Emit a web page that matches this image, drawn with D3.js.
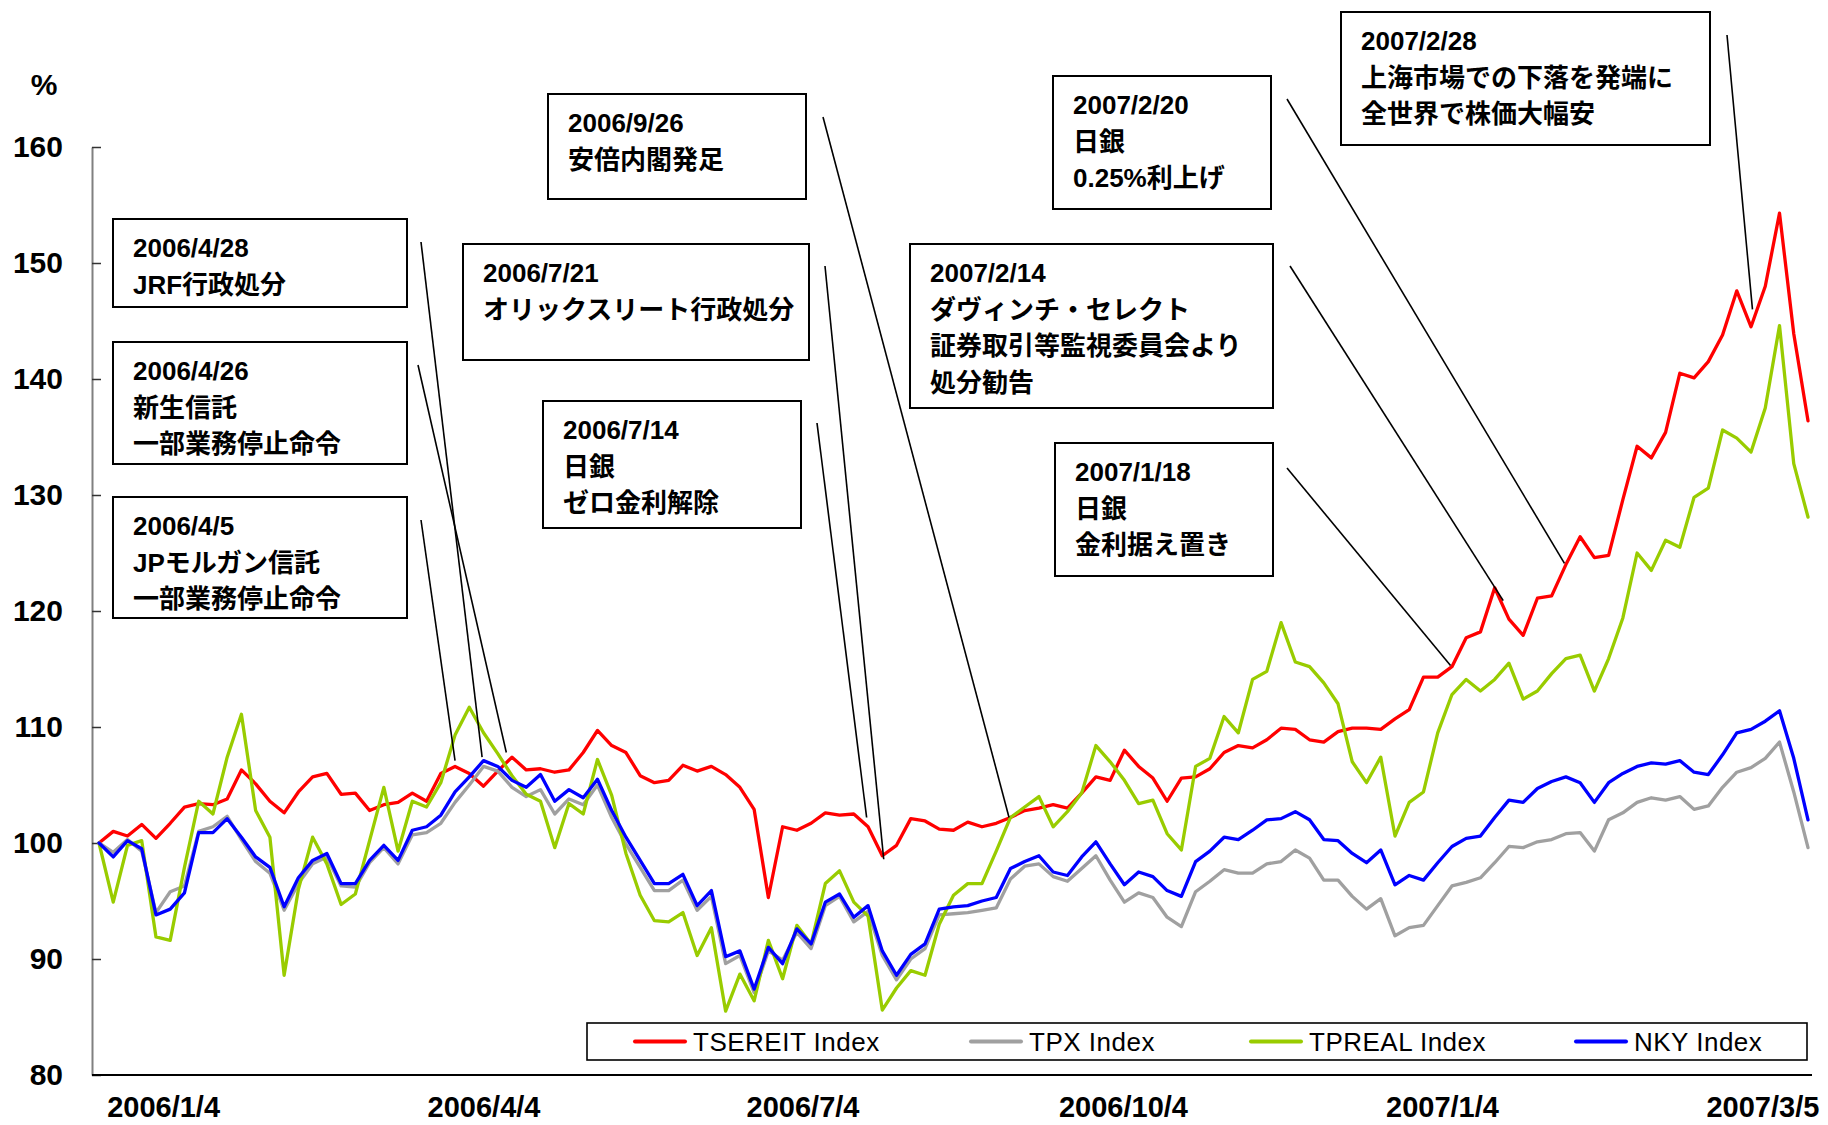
<!DOCTYPE html>
<html>
<head>
<meta charset="utf-8">
<script src="https://cdn.jsdelivr.net/npm/d3@7/dist/d3.min.js"></script>
<style>
  html, body { margin: 0; padding: 0; background: #fff; }
  svg { display: block; }
  .lab { font-family: "Liberation Sans", Arial, "Noto Sans CJK JP", sans-serif; }
</style>
</head>
<body>
<svg id="chart" width="1828" height="1125"></svg>
<script>
// ---------------- DATA ----------------
const seriesNames = ["TSEREIT Index", "TPX Index", "TPREAL Index", "NKY Index"];

const tsereit = [
  100, 101.0, 100.6, 101.6, 100.4, 101.7, 103.1, 103.4, 103.3, 103.8,
  106.3, 105.1, 103.6, 102.6, 104.4, 105.7, 106.0, 104.2, 104.3, 102.8,
  103.3, 103.5, 104.3, 103.6, 106.0, 106.6, 106.0, 104.9, 106.2, 107.4,
  106.3, 106.4, 106.1, 106.3, 107.8, 109.7, 108.4, 107.8, 105.8, 105.2,
  105.4, 106.7, 106.2, 106.6, 105.9, 104.8, 102.9, 95.3, 101.4, 101.1,
  101.7, 102.6, 102.4, 102.5, 101.4, 98.9, 99.8, 102.1, 101.9, 101.2,
  101.1, 101.8, 101.4, 101.7, 102.2, 102.8, 103.0, 103.3, 103.0, 104.3,
  105.7, 105.4, 108.0, 106.6, 105.6, 103.6, 105.6, 105.7, 106.4, 107.8,
  108.4, 108.2, 108.9, 109.9, 109.8, 108.9, 108.7, 109.6, 109.9, 109.9,
  109.8, 110.7, 111.5, 114.3, 114.3, 115.2, 117.7, 118.2, 122.0, 119.3,
  117.9, 121.1, 121.3, 124.0, 126.4, 124.6, 124.8, 129.6, 134.2, 133.2,
  135.4, 140.5, 140.1, 141.5, 143.8, 147.6, 144.5, 148.0, 154.3, 143.9, 136.4
];

const tpx = [
  100, 99.2, 100.3, 99.3, 94.0, 95.8, 96.3, 101.0, 101.4, 102.3,
  100.3, 98.4, 97.4, 94.2, 96.5, 98.2, 98.8, 96.3, 96.2, 98.3,
  99.6, 98.2, 100.7, 100.9, 101.7, 103.5, 105.0, 106.6, 106.2, 104.8,
  104.0, 104.6, 102.5, 103.8, 103.3, 105.0, 102.2, 99.9, 97.9, 95.9,
  95.9, 96.8, 94.2, 95.4, 89.6, 90.3, 87.1, 90.7, 89.9, 92.3,
  90.9, 94.6, 95.4, 93.2, 94.1, 90.3, 88.2, 90.0, 90.9, 93.8,
  93.9, 94.0, 94.2, 94.4, 96.9, 98.0, 98.2, 97.1, 96.7, 97.8,
  98.9, 96.8, 94.9, 95.7, 95.3, 93.6, 92.8, 95.8, 96.7, 97.7,
  97.4, 97.4, 98.2, 98.4, 99.4, 98.7, 96.8, 96.8, 95.4, 94.3,
  95.2, 92.0, 92.7, 92.9, 94.6, 96.3, 96.6, 97.0, 98.3, 99.7,
  99.6, 100.1, 100.3, 100.8, 100.9, 99.3, 102.0, 102.6, 103.5, 103.9,
  103.7, 104.0, 102.9, 103.2, 104.8, 106.1, 106.5, 107.3, 108.7, 104.4, 99.6
];

const tpreal = [
  100, 94.9, 99.8, 100.2, 91.9, 91.6, 97.9, 103.6, 102.5, 107.4,
  111.1, 102.8, 100.5, 88.6, 96.0, 100.5, 98.2, 94.7, 95.6, 100.2,
  104.8, 99.3, 103.6, 103.1, 105.2, 109.3, 111.7, 109.5, 107.7, 105.8,
  104.2, 103.6, 99.6, 103.4, 102.5, 107.2, 104.1, 99.1, 95.5, 93.3,
  93.2, 94.0, 90.3, 92.7, 85.5, 88.7, 86.4, 91.6, 88.3, 92.9,
  91.3, 96.5, 97.6, 94.9, 93.7, 85.6, 87.5, 89.0, 88.6, 93.0,
  95.5, 96.5, 96.5, 99.3, 102.2, 103.1, 104.0, 101.4, 102.7, 104.3,
  108.4, 107.0, 105.4, 103.4, 103.7, 100.8, 99.4, 106.6, 107.3, 110.9,
  109.5, 114.1, 114.8, 119.0, 115.6, 115.2, 113.8, 112.0, 107.0, 105.2,
  107.4, 100.6, 103.5, 104.4, 109.5, 112.8, 114.1, 113.1, 114.1, 115.5,
  112.4, 113.1, 114.6, 115.9, 116.2, 113.1, 115.9, 119.4, 125.0, 123.5,
  126.1, 125.5, 129.8, 130.6, 135.6, 134.9, 133.7, 137.5, 144.6, 132.7, 128.1
];

const nky = [
  100, 98.8, 100.2, 99.5, 93.8, 94.3, 95.7, 100.9, 100.9, 102.1,
  100.5, 98.8, 97.9, 94.5, 97.0, 98.5, 99.1, 96.5, 96.5, 98.5,
  99.8, 98.5, 101.1, 101.4, 102.4, 104.4, 105.7, 107.1, 106.6, 105.4,
  104.8, 105.9, 103.6, 104.6, 103.9, 105.5, 102.8, 100.5, 98.5, 96.5,
  96.5, 97.3, 94.6, 95.9, 90.2, 90.7, 87.4, 91.0, 89.6, 92.6,
  91.3, 94.9, 95.6, 93.6, 94.6, 90.7, 88.6, 90.4, 91.3, 94.3,
  94.5, 94.6, 95.0, 95.3, 97.8, 98.4, 98.9, 97.5, 97.2, 98.8,
  100.1, 98.2, 96.4, 97.5, 97.1, 95.9, 95.4, 98.4, 99.3, 100.5,
  100.3, 101.1, 102.0, 102.1, 102.7, 102.0, 100.3, 100.2, 99.1, 98.3,
  99.4, 96.4, 97.2, 96.8, 98.3, 99.7, 100.4, 100.6, 102.2, 103.7,
  103.5, 104.7, 105.3, 105.7, 105.2, 103.5, 105.2, 106.0, 106.6, 106.9,
  106.8, 107.1, 106.1, 105.9, 107.6, 109.5, 109.8, 110.5, 111.4, 107.3, 102.0
];

const yTicks = [80, 90, 100, 110, 120, 130, 140, 150, 160];
const xTickLabels = ["2006/1/4", "2006/4/4", "2006/7/4", "2006/10/4", "2007/1/4", "2007/3/5"];
const xTickIndex = [4.5, 27.0, 49.4, 71.9, 94.3, 116.8];

// annotation texts and the data point (index, value) each leader points to
const annTexts = [
  ["2007/2/28", "上海市場での下落を発端に", "全世界で株価大幅安"],
  ["2007/2/20", "日銀", "0.25%利上げ"],
  ["2006/9/26", "安倍内閣発足"],
  ["2006/4/28", "JRF行政処分"],
  ["2006/7/21", "オリックスリート行政処分"],
  ["2007/2/14", "ダヴィンチ・セレクト", "証券取引等監視委員会より", "処分勧告"],
  ["2006/4/26", "新生信託", "一部業務停止命令"],
  ["2006/7/14", "日銀", "ゼロ金利解除"],
  ["2007/1/18", "日銀", "金利据え置き"],
  ["2006/4/5", "JPモルガン信託", "一部業務停止命令"]
];
const annTargets = [
  [116.1, 146.0], [102.9, 124.1], [63.9, 102.2], [26.9, 107.4], [55.1, 98.6],
  [98.6, 120.9], [28.6, 107.8], [53.9, 102.2], [94.9, 115.3], [25.0, 107.1]
];

// ---------------- LAYOUT ----------------
const W = 1828, H = 1125;
const plot = { left: 92, right: 1812, top: 147, bottom: 1075, x0: 99, x1: 1808 };
// box: [x, y, w, h], leader start [x, y]
const annLayout = [
  { box: [1341, 12, 369, 133], from: [1727, 35] },
  { box: [1053, 76, 218, 133], from: [1287, 99] },
  { box: [548, 94, 258, 105], from: [823, 117] },
  { box: [113, 219, 294, 88], from: [421, 242] },
  { box: [463, 244, 346, 116], from: [825, 266] },
  { box: [910, 244, 363, 164], from: [1290, 266] },
  { box: [113, 342, 294, 122], from: [418, 365] },
  { box: [543, 401, 258, 127], from: [817, 423] },
  { box: [1055, 443, 218, 133], from: [1287, 468] },
  { box: [113, 497, 294, 121], from: [421, 520] }
];
const colors = ["#FF0000", "#A0A0A0", "#99CC00", "#0000FF"];
const legendLayout = { x: 587, y: 1023, w: 1220, h: 37, items: [635, 971, 1251, 1576] };

// ---------------- DRAW ----------------
const svg = d3.select("#chart");
svg.append("rect").attr("width", W).attr("height", H).attr("fill", "#fff");

const x = d3.scaleLinear().domain([0, tsereit.length - 1]).range([plot.x0, plot.x1]);
const y = d3.scaleLinear().domain([80, 160]).range([plot.bottom, plot.top]);

// y axis
const yAxis = d3.axisLeft(y).tickValues(yTicks).tickSizeInner(-9).tickSizeOuter(0).tickPadding(29);
const gy = svg.append("g").attr("transform", `translate(${plot.left},0)`).call(yAxis);
gy.select(".domain").attr("stroke", "#808080").attr("stroke-width", 2);
gy.selectAll(".tick line").attr("stroke", "#333").attr("stroke-width", 1.5);
gy.selectAll(".tick text")
  .attr("class", "lab")
  .style("font-size", "30px").style("font-weight", "bold").attr("fill", "#000");

// % label
svg.append("text").attr("class", "lab").attr("x", 44).attr("y", 95)
  .attr("text-anchor", "middle").style("font-size", "30px").style("font-weight", "bold")
  .text("%");

// x axis
const xAxis = d3.axisBottom(x).tickValues(xTickIndex)
  .tickFormat((d, i) => xTickLabels[i]).tickSize(0).tickPadding(21);
const gx = svg.append("g").attr("transform", `translate(0,${plot.bottom})`).call(xAxis);
gx.select(".domain").remove();
gx.selectAll(".tick text").attr("class", "lab")
  .style("font-size", "29px").style("font-weight", "bold").attr("fill", "#000");
svg.append("line").attr("x1", plot.left).attr("x2", plot.right)
  .attr("y1", plot.bottom).attr("y2", plot.bottom)
  .attr("stroke", "#000").attr("stroke-width", 2);

// series
const allSeries = [tsereit, tpx, tpreal, nky];
const line = d3.line().x((d, i) => x(i)).y(d => y(d)).curve(d3.curveLinear);
allSeries.forEach((s, k) => {
  svg.append("path").datum(s).attr("d", line)
    .attr("fill", "none").attr("stroke", colors[k])
    .attr("stroke-width", 3.3).attr("stroke-linejoin", "round").attr("stroke-linecap", "round");
});

// annotations
annTexts.forEach((lines, k) => {
  const L = annLayout[k];
  const [bx, by, bw, bh] = L.box;
  const t = annTargets[k];
  svg.append("line")
    .attr("x1", L.from[0]).attr("y1", L.from[1])
    .attr("x2", x(t[0])).attr("y2", y(t[1]))
    .attr("stroke", "#000").attr("stroke-width", 1.6);
  svg.append("rect").attr("x", bx).attr("y", by).attr("width", bw).attr("height", bh)
    .attr("fill", "#fff").attr("stroke", "#000").attr("stroke-width", 2);
  const tx = svg.append("text").attr("class", "lab")
    .style("font-size", "26px").style("font-weight", "bold").attr("fill", "#000");
  lines.forEach((s, j) => {
    tx.append("tspan").attr("x", bx + 20).attr("y", by + 29 + j * 36.5).attr("dy", "0.36em").text(s);
  });
});

// legend
const lg = svg.append("g");
lg.append("rect").attr("x", legendLayout.x).attr("y", legendLayout.y)
  .attr("width", legendLayout.w).attr("height", legendLayout.h)
  .attr("fill", "#fff").attr("stroke", "#000").attr("stroke-width", 1.6);
const ly = legendLayout.y + legendLayout.h / 2;
seriesNames.forEach((name, k) => {
  const lx = legendLayout.items[k];
  lg.append("line").attr("x1", lx).attr("x2", lx + 50).attr("y1", ly).attr("y2", ly)
    .attr("stroke", colors[k]).attr("stroke-width", 4).attr("stroke-linecap", "round");
  lg.append("text").attr("class", "lab").attr("x", lx + 58).attr("y", ly).attr("dy", "0.36em")
    .style("font-size", "26px").attr("fill", "#000").style("letter-spacing", "0.5px").text(name);
});
</script>
</body>
</html>
